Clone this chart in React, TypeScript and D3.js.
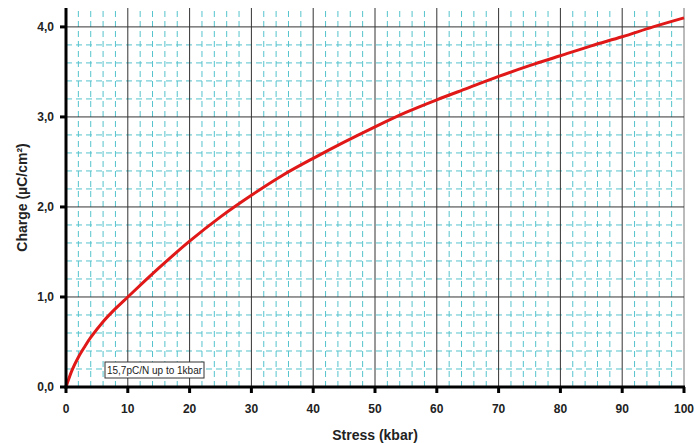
import React from "react";
import * as d3 from "d3";

const stress = [0, 1, 2, 3, 4, 6, 8, 10, 15, 20, 25, 30, 35, 40, 45, 50, 55, 60, 65, 70, 75, 80, 85, 90, 95, 100];
const charge = [0, 0.19, 0.33, 0.445, 0.55, 0.725, 0.87, 1.0, 1.32, 1.62, 1.89, 2.13, 2.35, 2.54, 2.72, 2.89, 3.05, 3.19, 3.32, 3.45, 3.57, 3.68, 3.79, 3.89, 4.0, 4.1];
const xTicks = [0, 10, 20, 30, 40, 50, 60, 70, 80, 90, 100];
const yTicks = [0, 1, 2, 3, 4];
const xMinor = d3.range(2, 100, 2).filter((v) => v % 10 !== 0);
const yMinor = d3.range(1, 21).map((i) => i * 0.2).filter((v, i) => (i + 1) % 5 !== 0);
const note = "15,7pC/N up to 1kbar";

const W = 695, H = 443;
const m = { left: 66, right: 11, top: 8, bottom: 56 };

export default function App() {
  const x = d3.scaleLinear().domain([0, 100]).range([m.left, W - m.right]);
  const y = d3.scaleLinear().domain([0, 4.21]).range([H - m.bottom, m.top]);
  const line = d3.line<number>().x((_, i) => x(stress[i])).y((d) => y(d)).curve(d3.curveCatmullRom.alpha(0.5));
  const font = "Arial, 'Liberation Sans', sans-serif";
  const x0 = x(0), x1 = x(100), y0 = y(0), yTop = y(4.21);
  return (
    <svg width={W} height={H} style={{ position: "absolute", left: 0, top: 0, background: "#fff" }}>
      <rect x={0} y={0} width={W} height={H} fill="#fff" />
      {xMinor.map((v) => (
        <line key={"xm" + v} x1={x(v)} x2={x(v)} y1={y0} y2={yTop} stroke="#55c3cc" strokeWidth={1} strokeDasharray="6,4" />
      ))}
      {yMinor.map((v) => (
        <line key={"ym" + v} x1={x0} x2={x1} y1={y(v)} y2={y(v)} stroke="#55c3cc" strokeWidth={1} strokeDasharray="6,4" />
      ))}
      {xTicks.slice(1).map((v) => (
        <line key={"xg" + v} x1={x(v)} x2={x(v)} y1={y0} y2={yTop} stroke={v === 100 ? "#777" : "#333"} strokeWidth={1} />
      ))}
      {yTicks.slice(1).map((v) => (
        <line key={"yg" + v} x1={x0} x2={x1} y1={y(v)} y2={y(v)} stroke="#333" strokeWidth={1} />
      ))}
      <path d={line(charge) || ""} fill="none" stroke="#e01818" strokeWidth={3} />
      <line x1={x0} x2={x0} y1={yTop} y2={y0 + 1.5} stroke="#000" strokeWidth={3} />
      <line x1={x0 - 1.5} x2={x1 + 1} y1={y0} y2={y0} stroke="#000" strokeWidth={3} />
      {yTicks.map((v) => (
        <g key={"yt" + v}>
          <line x1={x0 - 6} x2={x0} y1={y(v)} y2={y(v)} stroke="#000" strokeWidth={3} />
          <text x={x0 - 12} y={y(v)} dy="0.35em" textAnchor="end" fontFamily={font} fontWeight="bold" fontSize={12} fill="#222">
            {d3.format(".1f")(v).replace(".", ",")}
          </text>
        </g>
      ))}
      {xTicks.map((v) => (
        <g key={"xt" + v}>
          <line x1={x(v)} x2={x(v)} y1={y0} y2={y0 + 6} stroke="#000" strokeWidth={3} />
          <text x={x(v)} y={y0 + 26} textAnchor="middle" fontFamily={font} fontWeight="bold" fontSize={12} fill="#222">
            {v}
          </text>
        </g>
      ))}
      <text x={(x0 + x1) / 2} y={440} textAnchor="middle" fontFamily={font} fontWeight="bold" fontSize={14} fill="#222">
        Stress (kbar)
      </text>
      <text transform={`translate(27,${(y0 + yTop) / 2}) rotate(-90)`} textAnchor="middle" fontFamily={font} fontWeight="bold" fontSize={14} fill="#222">
        Charge (µC/cm²)
      </text>
      <rect x={105} y={362} width={99} height={16} fill="#fff" stroke="#333" strokeWidth={1} />
      <text x={154.5} y={374} textAnchor="middle" fontFamily={font} fontSize={10} fill="#222">
        {note}
      </text>
    </svg>
  );
}
